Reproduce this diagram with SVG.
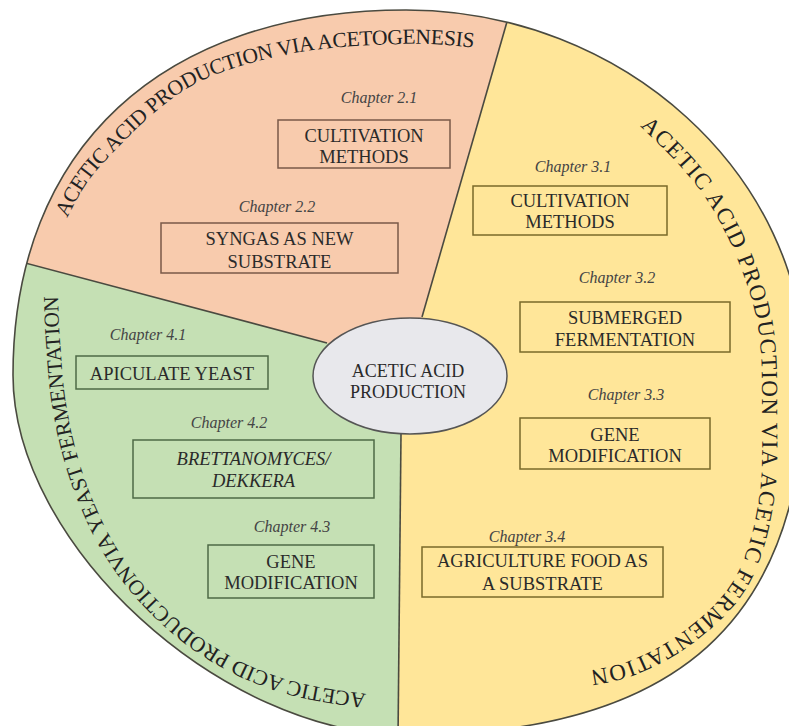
<svg xmlns="http://www.w3.org/2000/svg" width="789" height="726" viewBox="0 0 789 726">
<style>
.div{stroke:#4a4a40;stroke-width:1.6;fill:none}
.box{stroke-width:1.5;fill:none}
.bo{stroke:#7a5a48}
.by{stroke:#7a6a2a}
.bg{stroke:#4d6a45}
.bt{font-family:"Liberation Serif","Times New Roman",serif;font-size:18.5px;fill:#2a2a2a;text-anchor:middle}
.ct{font-family:"Liberation Serif","Times New Roman",serif;font-size:18px;fill:#2a2a2a;text-anchor:middle}
.ch{font-family:"Liberation Serif","Times New Roman",serif;font-size:16px;font-style:italic;fill:#444;text-anchor:middle}
.arc{font-family:"Liberation Serif","Times New Roman",serif;fill:#222}
.it{font-style:italic}
</style>
<defs>
<path id="outer" d="M 406 10 C 622.2 10 805 174.3 805 375 C 805 619.8 677.3 735 406 735 C 221.3 735 13 544.2 13 375 C 13 148.7 162.3 10 406 10 Z"/>
<clipPath id="disc"><use href="#outer"/></clipPath>
<path id="arc1" d="M 67 218 C 76.7 200.2 82.8 184.7 103 163 C 123.2 141.3 156.8 106.2 188 88 C 219.2 69.8 254.7 61.3 290 54 C 325.3 46.7 369.2 45 400 44 C 430.8 43 451.7 45 475 48"/>
<path id="arc2" d="M 640 126 C 665 150.2 690.8 174 710 205 C 729.2 236 746.3 276.2 755 312 C 763.7 347.8 761.5 387.8 762 420 C 762.5 452.2 762.5 478.7 758 505 C 753.5 531.3 746.7 557.5 735 578 C 723.3 598.5 705.2 614.3 688 628 C 670.8 641.7 649.7 652.7 632 660 C 614.3 667.3 599 668.3 582 672"/>
<path id="arc3" d="M 366 694 C 340.2 690.5 310 686.7 285 679 C 260 671.3 236.8 660.7 216 648 C 195.2 635.3 176.7 619.8 160 603 C 143.3 586.2 128.5 567.5 116 547 C 103.5 526.5 93.2 502.8 85 480 C 76.8 457.2 71.2 433.3 67 410 C 62.8 386.7 61.5 359.7 60 340 C 58.5 320.3 58.5 307 58 292"/>
</defs>
<g id="sectors" clip-path="url(#disc)">
<rect x="0" y="0" width="820" height="760" fill="#FFE699"/>
<path fill="#F8CBAD" d="M 410 376 L 422 317 L 519 -20 L -20 -20 L -20 251 L 327 343 Z"/>
<path fill="#C5E0B4" d="M 410 376 L 327 343 L -20 251 L -20 780 L 397.6 780 L 401 434 Z"/>
</g>
<g id="connectors">
<g clip-path="url(#disc)">
<line class="div" x1="422" y1="317" x2="519" y2="-20"/>
<line class="div" x1="327" y1="343" x2="-20" y2="251"/>
<line class="div" x1="401" y1="434" x2="397.6" y2="780"/>
</g>
<use href="#outer" class="div"/>
</g>
<g id="center">
<ellipse cx="410" cy="376" rx="97" ry="58" fill="#E8E8EC" stroke="#555" stroke-width="1.5"/>
<text class="ct" x="408" y="377">ACETIC ACID</text>
<text class="ct" x="408" y="398">PRODUCTION</text>
</g>
<g id="title-acetogenesis"><text class="arc" font-size="21.5"><textPath href="#arc1" textLength="472" lengthAdjust="spacing">ACETIC ACID PRODUCTION VIA ACETOGENESIS</textPath></text></g>
<g id="title-acetic"><text class="arc" font-size="23"><textPath href="#arc2" textLength="670" lengthAdjust="spacing">ACETIC ACID PRODUCTION VIA ACETIC FERMENTATION</textPath></text></g>
<g id="title-yeast"><text class="arc" font-size="21.5"><textPath href="#arc3" textLength="562" lengthAdjust="spacing">ACETIC ACID PRODUCTIONVIA YEAST FERMENTATION</textPath></text></g>
<g id="ch21"><text class="ch" x="379" y="103">Chapter 2.1</text>
<rect class="box bo" x="278" y="120" width="172" height="48"/>
<text class="bt" x="364" y="142">CULTIVATION</text><text class="bt" x="364" y="163">METHODS</text></g>
<g id="ch22"><text class="ch" x="277" y="212">Chapter 2.2</text>
<rect class="box bo" x="161" y="223" width="237" height="50"/>
<text class="bt" x="279.5" y="245">SYNGAS AS NEW</text><text class="bt" x="279.5" y="268">SUBSTRATE</text></g>
<g id="ch31"><text class="ch" x="573" y="172">Chapter 3.1</text>
<rect class="box by" x="473" y="186" width="194" height="49"/>
<text class="bt" x="570" y="207">CULTIVATION</text><text class="bt" x="570" y="228">METHODS</text></g>
<g id="ch32"><text class="ch" x="617" y="283">Chapter 3.2</text>
<rect class="box by" x="520" y="302" width="210" height="50"/>
<text class="bt" x="625" y="324">SUBMERGED</text><text class="bt" x="625" y="346">FERMENTATION</text></g>
<g id="ch33"><text class="ch" x="626" y="400">Chapter 3.3</text>
<rect class="box by" x="520" y="418" width="190" height="51"/>
<text class="bt" x="615" y="441">GENE</text><text class="bt" x="615" y="462">MODIFICATION</text></g>
<g id="ch34"><text class="ch" x="527" y="542">Chapter 3.4</text>
<rect class="box by" x="422" y="547" width="241" height="50"/>
<text class="bt" x="542.5" y="567">AGRICULTURE FOOD AS</text><text class="bt" x="542.5" y="590">A SUBSTRATE</text></g>
<g id="ch41"><text class="ch" x="148" y="340">Chapter 4.1</text>
<rect class="box bg" x="76" y="356" width="192" height="33"/>
<text class="bt" x="172" y="380">APICULATE YEAST</text></g>
<g id="ch42"><text class="ch" x="229" y="428">Chapter 4.2</text>
<rect class="box bg" x="133" y="440" width="241" height="58"/>
<text class="bt it" x="253.5" y="465">BRETTANOMYCES/</text><text class="bt it" x="253.5" y="487">DEKKERA</text></g>
<g id="ch43"><text class="ch" x="292" y="532">Chapter 4.3</text>
<rect class="box bg" x="208" y="545" width="166" height="53"/>
<text class="bt" x="291" y="568">GENE</text><text class="bt" x="291" y="589">MODIFICATION</text></g>
</svg>
